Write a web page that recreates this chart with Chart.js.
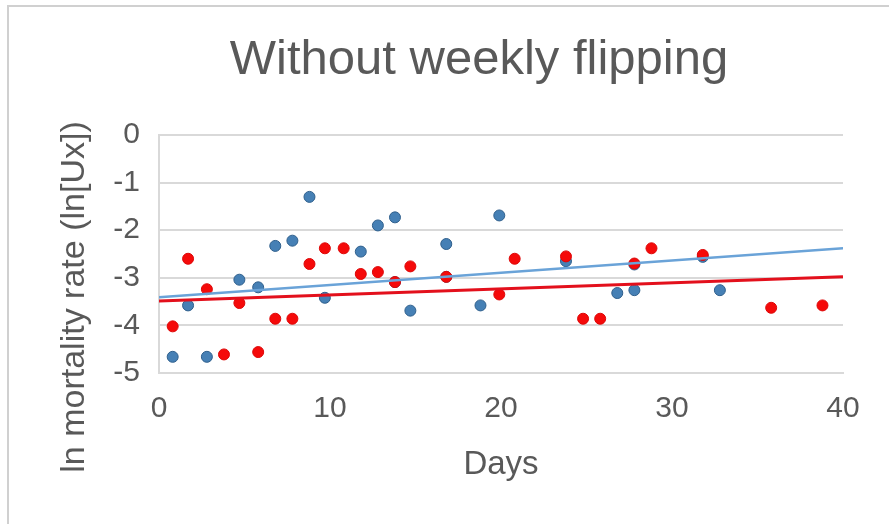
<!DOCTYPE html>
<html>
<head>
<meta charset="utf-8">
<script src="https://cdn.jsdelivr.net/npm/chart.js@4"></script>
<style>
  html, body { margin: 0; padding: 0; background: #fff; }
  #wrap { position: relative; width: 889px; height: 524px; overflow: hidden; }
  #frame { position: absolute; left: 7px; top: 5px; width: 1000px; height: 600px;
           border-top: 2px solid #d0d0d0; border-left: 2px solid #d0d0d0; }
  #chart { position: absolute; left: 0; top: 0; }
</style>
</head>
<body>
<div id="wrap">
  <div id="frame"></div>
  <canvas id="chart" width="889" height="524"></canvas>
</div>
<script>
// valores
const blueDays  = [0.8, 1.7, 2.8, 4.7, 5.8, 6.8, 7.8, 8.8, 9.7, 11.8, 12.8, 13.8, 13.8, 14.7, 16.8, 16.8, 18.8, 19.9, 23.8, 26.8, 27.8, 27.8, 31.8, 32.8];
const blueRates = [-4.66, -3.58, -4.66, -3.04, -3.20, -2.33, -2.22, -1.30, -3.42, -2.45, -1.90, -1.73, -3.09, -3.69, -2.29, -2.98, -3.58, -1.69, -2.65, -3.32, -3.26, -2.72, -2.56, -3.26];

const redDays  = [0.8, 1.7, 2.8, 3.8, 4.7, 5.8, 6.8, 7.8, 8.8, 9.7, 10.8, 11.8, 12.8, 13.8, 14.7, 16.8, 19.9, 20.8, 23.8, 24.8, 25.8, 27.8, 28.8, 31.8, 35.8, 38.8];
const redRates = [-4.02, -2.60, -3.24, -4.61, -3.53, -4.56, -3.86, -3.86, -2.71, -2.38, -2.38, -2.92, -2.88, -3.09, -2.76, -2.98, -3.35, -2.60, -2.55, -3.86, -3.86, -2.70, -2.38, -2.52, -3.63, -3.58];

// lineas de tendencia (extremos)
const trendDays = [0, 40];
const blueTrend = [-3.41, -2.38];
const redTrend  = [-3.49, -2.98];

const chartTitle = 'Without weekly flipping';
const xTitle = 'Days';
const yTitle = 'ln mortality rate (ln[Ux])';

const textColor = '#595959';
const fontFamily = '"Liberation Sans", Arial, Helvetica, sans-serif';

function toPoints(xs, ys) {
    return xs.map((x, i) => ({ x: x, y: ys[i] }));
}

// titulo principal y titulo del eje Y, colocados como en el original
const titlesPlugin = {
    id: 'titlesPlugin',
    afterDraw(chart) {
        const ctx = chart.ctx;
        ctx.save();
        ctx.fillStyle = textColor;
        ctx.textAlign = 'center';
        ctx.textBaseline = 'middle';
        ctx.font = '49px ' + fontFamily;
        ctx.fillText(chartTitle, 479, 60);

        ctx.translate(75, 297);
        ctx.rotate(-Math.PI / 2);
        ctx.font = '34px ' + fontFamily;
        ctx.fillText(yTitle, 0, 0);
        ctx.restore();
    }
};

const ctx = document.getElementById('chart').getContext('2d');
new Chart(ctx, {
    type: 'scatter',
    data: {
        datasets: [
            {
                label: 'trend blue',
                data: toPoints(trendDays, blueTrend),
                showLine: true,
                borderColor: '#6aa3d8',
                borderWidth: 2.5,
                pointRadius: 0
            },
            {
                label: 'trend red',
                data: toPoints(trendDays, redTrend),
                showLine: true,
                borderColor: '#e3101c',
                borderWidth: 3,
                pointRadius: 0
            },
            {
                label: 'red',
                data: toPoints(redDays, redRates),
                backgroundColor: '#f50a0a',
                borderColor: '#dd0808',
                borderWidth: 1,
                pointRadius: 5.5
            },
            {
                label: 'blue',
                data: toPoints(blueDays, blueRates),
                backgroundColor: '#4680b5',
                borderColor: '#2f5f8c',
                borderWidth: 1,
                pointRadius: 5.5
            }
        ]
    },
    options: {
        responsive: false,
        animation: false,
        events: [],
        layout: { padding: { left: 0, right: 46, top: 135, bottom: 0 } },
        plugins: {
            legend: { display: false },
            tooltip: { enabled: false },
            title: { display: false }
        },
        scales: {
            x: {
                type: 'linear',
                min: 0,
                max: 40,
                afterFit: (scale) => { scale.height = 151; },
                ticks: {
                    stepSize: 10,
                    color: textColor,
                    font: { family: fontFamily, size: 30 },
                    padding: 18
                },
                grid: { display: false, drawTicks: false },
                border: { display: true, color: '#d9d9d9', width: 2 },
                title: {
                    display: true,
                    text: xTitle,
                    color: textColor,
                    font: { family: fontFamily, size: 33 },
                    padding: { top: 0, bottom: 39 }
                }
            },
            y: {
                type: 'linear',
                min: -5,
                max: 0,
                afterFit: (scale) => { scale.width = 159; },
                ticks: {
                    stepSize: 1,
                    color: textColor,
                    font: { family: fontFamily, size: 30 },
                    padding: 19
                },
                grid: { color: '#d9d9d9', lineWidth: 2, drawTicks: false },
                border: { display: true, color: '#d9d9d9', width: 2 }
            }
        }
    },
    plugins: [titlesPlugin]
});
</script>
</body>
</html>
